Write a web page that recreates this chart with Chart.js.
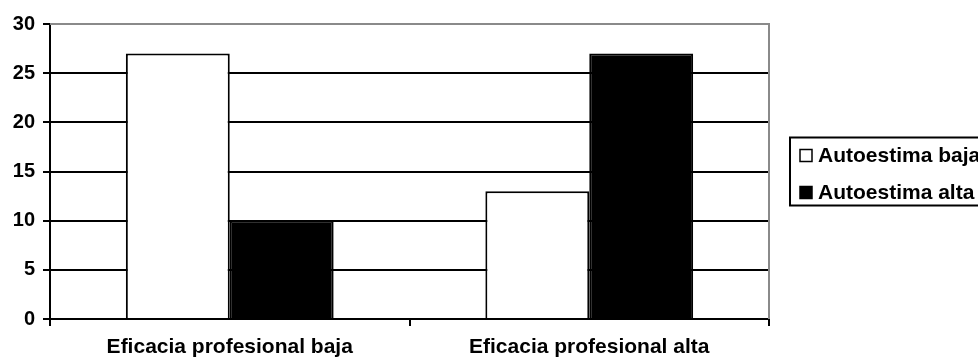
<!DOCTYPE html>
<html>
<head>
<meta charset="utf-8">
<script src="https://cdn.jsdelivr.net/npm/chart.js@4"></script>
<style>
  html, body { margin: 0; padding: 0; background: #fff; }
  #wrap { width: 978px; height: 360px; }
</style>
</head>
<body>
<div id="wrap"><canvas id="c"></canvas></div>
<script>
const categories = ['Eficacia profesional baja', 'Eficacia profesional alta'];
const seriesNames = ['Autoestima baja', 'Autoestima alta'];
const autoestimaBaja = [27, 13];
const autoestimaAlta = [10, 27];
const yTicks = [0, 5, 10, 15, 20, 25, 30];

const FONT = '"Liberation Sans", Arial, sans-serif';
const GRAY = '#8a8a8a';

// Gray frame on the top/right of the plot and the boxed legend on the right
const frameAndLegend = {
  id: 'frameAndLegend',
  beforeDatasetsDraw(chart) {
    const { ctx, chartArea: a } = chart;
    ctx.save();
    ctx.strokeStyle = GRAY;
    ctx.lineWidth = 2;
    ctx.beginPath();
    ctx.moveTo(a.left, a.top);
    ctx.lineTo(a.right, a.top);
    ctx.lineTo(a.right, a.bottom);
    ctx.stroke();
    ctx.restore();
  },
  afterDraw(chart) {
    const { ctx, chartArea: a } = chart;
    const ds = chart.data.datasets;
    const left = a.right + 21;
    const cy = (a.top + a.bottom) / 2;
    const h = 68;
    const top = cy - h / 2;
    ctx.save();
    ctx.fillStyle = '#fff';
    ctx.fillRect(left, top, 400, h);
    ctx.strokeStyle = '#000';
    ctx.lineWidth = 2;
    ctx.strokeRect(left, top, 400, h);
    ctx.font = 'bold 21px ' + FONT;
    ctx.textBaseline = 'middle';
    ds.forEach((d, i) => {
      const y = top + 18 + i * 37;
      ctx.fillStyle = d.backgroundColor;
      ctx.fillRect(left + 10, y - 6, 12, 12);
      ctx.strokeStyle = '#000';
      ctx.lineWidth = 1.5;
      ctx.strokeRect(left + 10, y - 6, 12, 12);
      ctx.fillStyle = '#000';
      ctx.fillText(d.label, left + 28, y + 1);
    });
    ctx.restore();
  }
};

new Chart(document.getElementById('c'), {
  type: 'bar',
  data: {
    labels: categories,
    datasets: [
      { label: seriesNames[0], data: autoestimaBaja, backgroundColor: '#ffffff', borderColor: '#000', borderWidth: 2 },
      { label: seriesNames[1], data: autoestimaAlta, backgroundColor: '#000000', borderColor: '#000', borderWidth: 2 }
    ]
  },
  options: {
    responsive: true,
    maintainAspectRatio: false,
    animation: false,
    events: [],
    layout: { padding: { top: 24, right: 209, bottom: 0, left: 0 } },
    datasets: { bar: { categoryPercentage: 0.578, barPercentage: 1.0 } },
    plugins: { legend: { display: false }, tooltip: { enabled: false } },
    scales: {
      x: {
        offset: true,
        grid: { offset: true, drawOnChartArea: false, drawTicks: true, tickLength: 7, color: '#000', lineWidth: 2 },
        border: { display: true, color: '#000', width: 2 },
        ticks: { color: '#000', padding: 9, font: { family: FONT, size: 21, weight: 'bold' } },
        afterFit(s) { s.height = 41; }
      },
      y: {
        min: 0,
        max: 30,
        afterBuildTicks(s) { s.ticks = yTicks.map(v => ({ value: v })); },
        grid: {
          color: c => (c.tick && c.tick.value === 30 ? GRAY : '#000'),
          tickColor: '#000',
          lineWidth: 2,
          tickLength: 7,
          drawTicks: true
        },
        border: { display: true, color: '#000', width: 2 },
        ticks: { color: '#000', padding: 8, font: { family: FONT, size: 20, weight: 'bold' } },
        afterFit(s) { s.width = 50; }
      }
    }
  },
  plugins: [frameAndLegend]
});
</script>
</body>
</html>
